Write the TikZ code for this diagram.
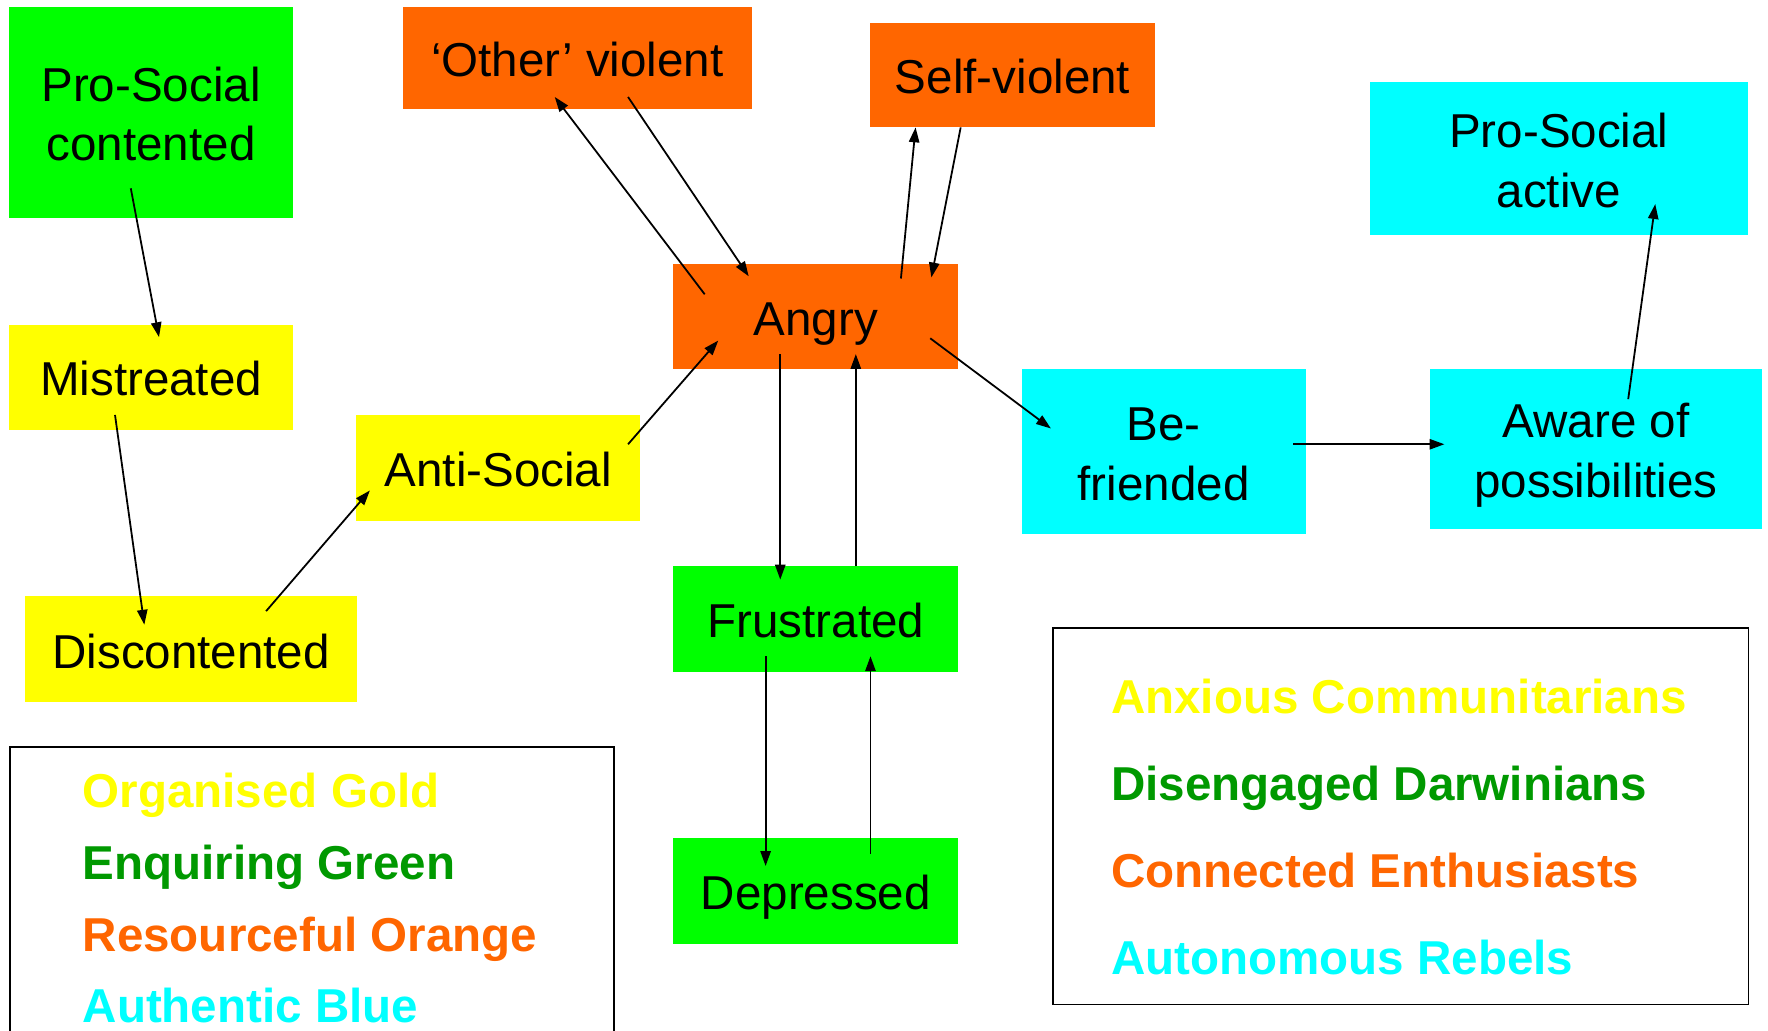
\documentclass[tikz,border=0pt]{standalone}
\usepackage{fontspec}
\setmainfont{Liberation Sans}
\usetikzlibrary{arrows.meta}
\definecolor{cgreen}{HTML}{00FF00}
\definecolor{cyellow}{HTML}{FFFF00}
\definecolor{corange}{HTML}{FF6600}
\definecolor{ccyan}{HTML}{00FFFF}
\definecolor{dgreen}{HTML}{009900}
\newcommand\bxs{\rule[-0.212em]{0pt}{\dimexpr1.117em+2.3pt\relax}}
\tikzset{
  bx/.style n args={3}{fill=#1, draw=none, inner sep=0pt, align=center,
     minimum width=#2*0.02cm, minimum height=#3*0.02cm,
     font=\fontsize{24}{29}\selectfont},
  arr/.style={line width=0.9pt, -{Triangle[length=7.5pt,width=5.2pt]}},
  legbox/.style={draw=black, line width=0.8pt, inner sep=0pt, anchor=north west},
  legtxt/.style={anchor=base west, inner sep=0pt, font=\fontsize{24}{29}\selectfont\bfseries, text=#1},
}
\begin{document}
\begin{tikzpicture}[x=0.02cm, y=-0.02cm]
\useasboundingbox (0,0) rectangle (1568,914);
\clip (0,0) rectangle (1568,914);
% boxes
\node[bx={cgreen}{252}{187}] (psc) at (134,99.5) {\bxs Pro-Social\\\bxs contented};
\node[bx={cyellow}{252}{93}] (mis) at (134,334.5) {\bxs Mistreated};
\node[bx={cyellow}{295}{94}] (dis) at (169.5,576) {\bxs Discontented};
\node[bx={cyellow}{252}{94}] (anti) at (442,415) {\bxs Anti-Social};
\node[bx={corange}{310}{91}] (oth) at (512,51.5) {\bxs `Other' violent};
\node[bx={corange}{252}{93}] (selfv) at (898,66.5) {\bxs Self-violent};
\node[bx={corange}{253}{93}] (angry) at (723.5,280.5) {\bxs Angry};
\node[bx={cgreen}{253}{94}] (frus) at (723.5,549) {\bxs Frustrated};
\node[bx={cgreen}{253}{94}] (dep) at (723.5,790) {\bxs Depressed};
\node[bx={ccyan}{252}{147}] (bef) at (1032,400.5) {\bxs Be-\\\bxs friended};
\node[bx={ccyan}{295}{142}] (aware) at (1415.5,398) {\bxs Aware of\\\bxs possibilities};
\node[bx={ccyan}{335}{135}] (psa) at (1382.5,140.5) {\bxs Pro-Social\\\bxs active};
% arrows
\draw[arr] ([shift={(-18,67.5)}]psc.center) -- ([shift={(7,-35.5)}]mis.center);
\draw[arr] ([shift={(-32,33.5)}]mis.center) -- ([shift={(-41.5,-22)}]dis.center);
\draw[arr] ([shift={(66.5,-34)}]dis.center) -- ([shift={(-114,20)}]anti.center);
\draw[arr] ([shift={(115,-21)}]anti.center) -- ([shift={(-86.5,21.5)}]angry.center);
\draw[arr] ([shift={(-98.5,-19.5)}]angry.center) -- ([shift={(-20,34.5)}]oth.center);
\draw[arr] ([shift={(45,34.5)}]oth.center) -- ([shift={(-59.5,-35.5)}]angry.center);
\draw[arr] ([shift={(75.5,-33.5)}]angry.center) -- ([shift={(-86,46.5)}]selfv.center);
\draw[arr] ([shift={(-46,46.5)}]selfv.center) -- ([shift={(102.5,-34.5)}]angry.center);
\draw[arr] ([shift={(-31.5,33.5)}]angry.center) -- ([shift={(-31.5,-35)}]frus.center);
\draw[arr] ([shift={(35.5,-47)}]frus.center) -- ([shift={(35.5,33.5)}]angry.center);
\draw[arr] ([shift={(-44.5,33)}]frus.center) -- ([shift={(-44.5,-22)}]dep.center);
\draw[arr] ([shift={(48.5,-33)}]dep.center) -- ([shift={(48.5,33)}]frus.center);
\draw[arr] ([shift={(101.5,19.5)}]angry.center) -- ([shift={(-100,-20.5)}]bef.center);
\draw[arr] ([shift={(115,-6.5)}]bef.center) -- ([shift={(-134.5,-4)}]aware.center);
\draw[arr] ([shift={(28.5,-44)}]aware.center) -- ([shift={(85.5,40.5)}]psa.center);
% legends
\node[legbox, minimum width=536*0.02cm, minimum height=300*0.02cm] (legL) at (8,662) {};
\node[legtxt=cyellow] (l1) at (73,716) {Organised Gold};
\node[legtxt=dgreen] (l2) at (73,780) {Enquiring Green};
\node[legtxt=corange] (l3) at (73,844) {Resourceful Orange};
\node[legtxt=ccyan] (l4) at (73,907) {Authentic Blue};
\node[legbox, minimum width=617*0.02cm, minimum height=334*0.02cm] (legR) at (933,556) {};
\node[legtxt=cyellow] (r1) at (985,633) {Anxious Communitarians};
\node[legtxt=dgreen] (r2) at (985,710) {Disengaged Darwinians};
\node[legtxt=corange] (r3) at (985,787) {Connected Enthusiasts};
\node[legtxt=ccyan] (r4) at (985,864) {Autonomous Rebels};
\end{tikzpicture}
\end{document}
